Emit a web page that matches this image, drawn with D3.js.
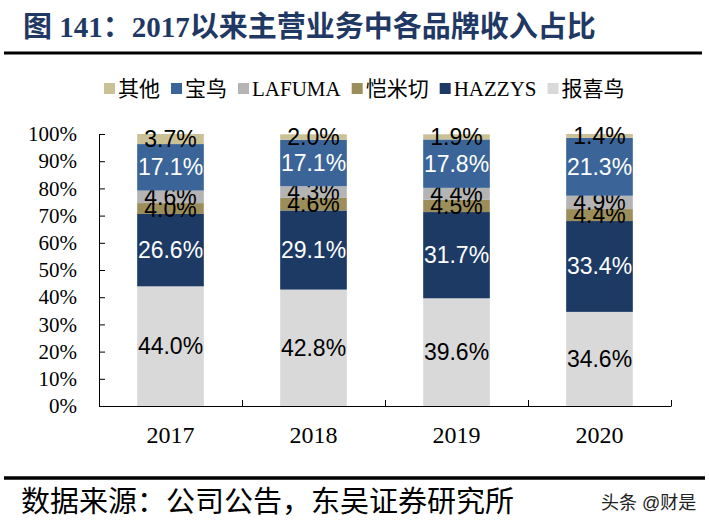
<!DOCTYPE html>
<html>
<head>
<meta charset="utf-8">
<script src="https://cdn.jsdelivr.net/npm/d3@7/dist/d3.min.js"></script>
<style>
	body { margin: 0; background: #fff; }
	svg { display: block; }
	.serif { font-family: "Liberation Serif", "Times New Roman", "Noto Sans CJK SC", serif; }
	.sans { font-family: "Liberation Sans", Arial, "Noto Sans CJK SC", sans-serif; }
</style>
</head>
<body>
<svg></svg>
<script>
/* stacked share of revenue by brand, 2017-2020 */

var years = ['2017', '2018', '2019', '2020'];
var brands = ['报喜鸟', 'HAZZYS', '恺米切', 'LAFUMA', '宝鸟', '其他']; // bottom to top
var baoxiniao = [44.0, 42.8, 39.6, 34.6];
var hazzys = [26.6, 29.1, 31.7, 33.4];
var kaimiqie = [4.0, 4.6, 4.5, 4.4];
var lafuma = [4.6, 4.3, 4.4, 4.9];
var baoniao = [17.1, 17.1, 17.8, 21.3];
var others = [3.7, 2.0, 1.9, 1.4];
var yTicks = [0, 10, 20, 30, 40, 50, 60, 70, 80, 90, 100];
var legendOrder = ['其他', '宝鸟', 'LAFUMA', '恺米切', 'HAZZYS', '报喜鸟'];

var colors = {
	'报喜鸟': '#d9d9d9',
	'HAZZYS': '#1c3a64',
	'恺米切': '#9c8e5a',
	'LAFUMA': '#b4b4b4',
	'宝鸟': '#3b6598',
	'其他': '#cbc197'
};
var labelColors = {
	'报喜鸟': '#000', 'HAZZYS': '#fff', '恺米切': '#000',
	'LAFUMA': '#000', '宝鸟': '#fff', '其他': '#000'
};

var series = [baoxiniao, hazzys, kaimiqie, lafuma, baoniao, others];
var rows = years.map(function (y, i) {
	var r = { year: y };
	brands.forEach(function (b, j) { r[b] = series[j][i]; });
	return r;
});

var svg = d3.select('svg').attr('width', 709).attr('height', 529);

// title + rules
svg.append('text')
	.attr('class', 'serif')
	.attr('x', 23).attr('y', 37)
	.attr('font-size', 29).attr('font-weight', 'bold')
	.attr('fill', '#1f3864')
	.text('图 141：2017以来主营业务中各品牌收入占比');

svg.append('line').attr('x1', 4).attr('x2', 702).attr('y1', 53).attr('y2', 53)
	.attr('stroke', '#000').attr('stroke-width', 3);
svg.append('line').attr('x1', 4).attr('x2', 705).attr('y1', 478).attr('y2', 478)
	.attr('stroke', '#000').attr('stroke-width', 3.5);

// scales
var x = d3.scaleBand().domain(years).range([99, 671]).paddingInner(0.534).paddingOuter(0.267);
var y = d3.scaleLinear().domain([0, 100]).range([406, 134]);
var xEdge = d3.scaleLinear().domain([0, years.length]).range([99, 671]);

var stack = d3.stack().keys(brands);
var layers = stack(rows);

var gBars = svg.append('g');
var layer = gBars.selectAll('g.layer')
	.data(layers)
	.enter().append('g')
	.attr('class', 'layer')
	.attr('fill', function (d) { return colors[d.key]; });

layer.selectAll('rect')
	.data(function (d) { return d; })
	.enter().append('rect')
	.attr('x', function (d) { return x(d.data.year); })
	.attr('width', x.bandwidth())
	.attr('y', function (d) { return y(d[1]); })
	.attr('height', function (d) { return y(d[0]) - y(d[1]); });

// axes
var yAxis = d3.axisLeft(y).tickValues(yTicks).tickSizeInner(-6).tickSizeOuter(0).tickPadding(22)
	.tickFormat(function (d) { return d + '%'; });
var gy = svg.append('g').attr('transform', 'translate(99,0)').call(yAxis);
gy.selectAll('text').attr('class', 'serif').attr('font-size', 21).attr('fill', '#000');
gy.selectAll('line, path').attr('stroke', '#000');

var xAxisEdges = d3.axisBottom(xEdge).ticks(years.length).tickSizeInner(-6).tickSizeOuter(0)
	.tickFormat('');
var gx = svg.append('g').attr('transform', 'translate(0,406)').call(xAxisEdges);
gx.selectAll('line, path').attr('stroke', '#000');
gx.selectAll('.tick').filter(function (d) { return d === 0; }).remove();

var xAxis = d3.axisBottom(x).tickSize(0).tickPadding(20);
var gxl = svg.append('g').attr('transform', 'translate(0,406)').call(xAxis);
gxl.select('.domain').remove();
gxl.selectAll('text').attr('class', 'serif').attr('font-size', 24).attr('fill', '#000');

// value labels
layer.selectAll('text')
	.data(function (d) { return d.map(function (v) { v.key = d.key; return v; }); })
	.enter().append('text')
	.attr('class', 'sans')
	.attr('x', function (d) { return x(d.data.year) + x.bandwidth() / 2; })
	.attr('y', function (d) { return (y(d[0]) + y(d[1])) / 2; })
	.attr('text-anchor', 'middle')
	.attr('dominant-baseline', 'central')
	.attr('font-size', 23)
	.attr('fill', function (d) { return labelColors[d.key]; })
	.text(function (d) { return d3.format('.1f')(d.data[d.key]) + '%'; });

// legend
var lx = 104;
legendOrder.forEach(function (name) {
	svg.append('rect').attr('x', lx).attr('y', 83).attr('width', 11).attr('height', 11)
		.attr('fill', colors[name]);
	var t = svg.append('text')
		.attr('class', 'serif')
		.attr('x', lx + 14).attr('y', 89)
		.attr('dominant-baseline', 'central')
		.attr('font-size', 21)
		.attr('fill', '#000')
		.text(name);
	lx = lx + 14 + t.node().getComputedTextLength() + 11;
});

// source + watermark
svg.append('text')
	.attr('class', 'serif')
	.attr('x', 21).attr('y', 502)
	.attr('dominant-baseline', 'central')
	.attr('font-size', 29)
	.attr('fill', '#000')
	.text('数据来源：公司公告，东吴证券研究所');

svg.append('text')
	.attr('class', 'sans')
	.attr('x', 601).attr('y', 503)
	.attr('dominant-baseline', 'central')
	.attr('font-size', 18)
	.attr('fill', '#222')
	.text('头条 @财是');
</script>
</body>
</html>
